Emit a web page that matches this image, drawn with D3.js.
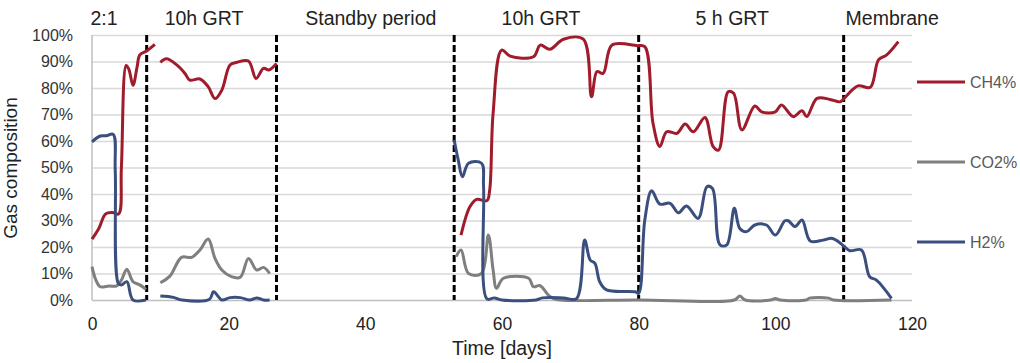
<!DOCTYPE html>
<html>
<head>
<meta charset="utf-8">
<script src="https://cdn.jsdelivr.net/npm/d3@7"></script>
<style>
  body { margin: 0; background: #fff; }
  svg text { font-family: "Liberation Sans", Arial, sans-serif; }
</style>
</head>
<body>
<svg id="chart"></svg>
<script>
// Gas composition (%) per day; null breaks the line
const ch4 = [
  [0, 23], [1, 27], [2, 32.5], [3, 33], [3.9, 32.5], [4.3, 50], [5.0, 88.5], [5.4, 87], [6.0, 81], [6.6, 88], [7.0, 92.5], [8, 94], [9.2, 96.5],
  null,
  [10, 89.7], [10.9, 91], [12.4, 88.7], [13.6, 85.5], [14.3, 83], [15.8, 83.4], [17, 80.5], [18, 76], [19, 79.2], [20.2, 88.7], [21.2, 89.7], [22.9, 90.2], [24, 83.6], [25.1, 87.4], [25.9, 86.8], [27, 89.3],
  null,
  [54, 24.5], [55.3, 35.2], [56.3, 38], [57.8, 37.5], [58.2, 41.5], [58.7, 70.5], [59.95, 94.3], [61.2, 92], [64.6, 91.8], [65.6, 96.2], [67, 94.6], [69, 98.4], [71.9, 98.4], [73.1, 76.7], [73.9, 86.2], [74.8, 85.5], [76.1, 96.2], [79.7, 96], [80.9, 95.6], [82.1, 66.7], [83.1, 57.9], [84.1, 63.5], [85.6, 62.9], [86.8, 66.4], [88, 63.5], [89.7, 68.9], [90.9, 57.9], [91.7, 56.6], [93.1, 78.6], [93.9, 78], [95.1, 64.2], [97, 73.2], [98, 71], [100, 71], [100.9, 73.6], [102.6, 69.2], [103.9, 71.4], [104.6, 69.2], [106.1, 76.1], [108, 75.7], [109.5, 74.8], [110.2, 76.5], [112.1, 80.8], [113.9, 80.3], [115.1, 90.6], [116.3, 92.5], [118, 97.5]
];
const co2 = [
  [0, 12.6], [0.5, 8], [1.2, 5], [2.5, 5.3], [3.6, 5.3], [4.3, 7.5], [5.1, 11.6], [6.0, 6.9], [7.0, 5.7], [7.9, 4],
  null,
  [10, 6.5], [11.4, 9], [13.1, 16.1], [14.6, 16.1], [15.8, 18.9], [17, 23], [18, 15.7], [19, 11.3], [20.4, 8.8], [21.7, 8.6], [22.9, 15.7], [24.1, 11.3], [25.1, 12.3], [26, 10],
  null,
  [53.3, 16.4], [54, 18.9], [55.1, 10], [57, 10], [58, 24.5], [58.7, 11.3], [59.2, 4.4], [60.2, 8.2], [63.9, 8.2], [64.6, 5], [65.5, 5.5], [66, 4.4], [67, 1.3], [68, 0.2], [80, 0], [94, 0], [94.8, 1.5], [95.6, 0], [99.3, 0], [100, 0.6], [100.7, 0], [104.5, 0], [105, 0.7], [107.8, 0.7], [108.5, 0], [117, 0]
];
const h2 = [
  [0, 59.7], [1.2, 61.9], [2.1, 62], [3.1, 62.5], [3.4, 49], [3.85, 6.3], [4.3, 5.7], [5.1, 6.9], [6, 0], [7.9, 0],
  null,
  [10, 1.5], [11.9, 1], [13.2, 0], [17.2, 0.3], [17.8, 3.1], [19, 0], [20.2, 0.9], [21.7, 0.9], [23.1, 0], [24.1, 0.8], [25.1, 0], [26, 0],
  null,
  [53, 60.4], [53.6, 52.8], [54.2, 46.5], [55.1, 51.6], [57, 51.6], [57.3, 42.8], [57.8, 0.4], [58.9, 0.8], [60, 0], [65, 0], [65.9, 0.8], [69, 0.8], [70.9, 0.5], [72.1, 22.6], [72.9, 15.1], [73.6, 13.8], [74.3, 6.9], [75.3, 3.8], [79.5, 3.1], [80, 2.5], [80.9, 30.2], [81.9, 41.2], [83.1, 36.2], [84.6, 36.5], [85.8, 32.9], [87, 35.5], [88.7, 30.8], [90, 42.8], [90.8, 42.1], [91.9, 20.8], [92.9, 20.8], [94, 34.6], [94.8, 27], [95.8, 25.8], [97, 28.3], [98.7, 28.3], [100, 24.5], [101.4, 29.9], [101.9, 29.9], [102.9, 27.7], [103.9, 30.2], [105.1, 22.3], [107, 22.6], [108.2, 23.3], [108.9, 22.6], [110, 20.4], [110.9, 18.6], [112.6, 18.9], [113.8, 8.8], [114.8, 7.5], [117, 0.6]
];

const seriesNames = ["CH4%", "CO2%", "H2%"];
const seriesData = [ch4, co2, h2];
const seriesColors = ["#a01b2b", "#7f7f7f", "#3b4f7e"];

// period boundaries and header labels
const phaseChangeDays = [8, 27, 53, 80, 110];
const periodNames = ["2:1", "10h GRT", "Standby period", "10h GRT", "5 h GRT", "Membrane"];
const periodLabelDays = [1.75, 16.4, 40.8, 65.7, 93.7, 117.1];

const xTicks = [0, 20, 40, 60, 80, 100, 120];
const yTicks = [0, 10, 20, 30, 40, 50, 60, 70, 80, 90, 100];

var svgWidth = 1020,
    svgHeight = 363,
    margin = { top: 35, right: 108, bottom: 63, left: 92 },
    width = svgWidth - margin.left - margin.right,
    height = svgHeight - margin.top - margin.bottom;

const svg = d3.select("#chart")
    .attr("width", svgWidth)
    .attr("height", svgHeight);

const g = svg.append("g")
    .attr("transform", "translate(" + [margin.left, margin.top] + ")");

const x = d3.scaleLinear().domain([0, 120]).range([0, width]);
const y = d3.scaleLinear().domain([0, 100]).range([height, 0]);

// gridlines + y labels
const yAxis = g.append("g")
    .call(d3.axisLeft(y).tickValues(yTicks).tickSize(-width).tickPadding(19)
        .tickFormat(function (d) { return d + "%"; }));
yAxis.select(".domain").remove();
yAxis.selectAll(".tick line")
    .attr("stroke", function (d) { return d === 0 ? "#bfbfbf" : "#d9d9d9"; })
    .attr("stroke-width", 1.5);
yAxis.selectAll(".tick text")
    .attr("fill", "#333")
    .style("font-size", "16px");

g.append("line")
    .attr("x1", 0).attr("x2", 0)
    .attr("y1", 0).attr("y2", height)
    .attr("stroke", "#bfbfbf")
    .attr("stroke-width", 1.5);

// x labels
const xAxis = g.append("g")
    .attr("transform", "translate(0," + height + ")")
    .call(d3.axisBottom(x).tickValues(xTicks).tickSize(0).tickPadding(18));
xAxis.select(".domain").remove();
xAxis.selectAll(".tick text")
    .attr("fill", "#222")
    .style("font-size", "17.5px");

// phase dividers
g.selectAll(".phase")
    .data(phaseChangeDays)
    .enter()
    .append("line")
    .attr("x1", function (d) { return x(d); })
    .attr("x2", function (d) { return x(d); })
    .attr("y1", 0).attr("y2", height)
    .attr("stroke", "#000")
    .attr("stroke-width", 3)
    .attr("stroke-dasharray", "7,3");

// series
const line = d3.line()
    .defined(function (d) { return d !== null; })
    .x(function (d) { return x(d[0]); })
    .y(function (d) { return y(d[1]); })
    .curve(d3.curveCatmullRom.alpha(0.5));

g.selectAll(".series")
    .data(seriesData)
    .enter()
    .append("path")
    .attr("fill", "none")
    .attr("stroke", function (d, i) { return seriesColors[i]; })
    .attr("stroke-width", 3)
    .attr("stroke-linejoin", "round")
    .attr("d", line);

// period headers
svg.selectAll(".period")
    .data(periodNames)
    .enter()
    .append("text")
    .attr("x", function (d, i) { return margin.left + x(periodLabelDays[i]); })
    .attr("y", 25)
    .attr("text-anchor", "middle")
    .attr("fill", "#222")
    .style("font-size", "19.5px")
    .text(function (d) { return d; });

// axis titles
svg.append("text")
    .attr("x", margin.left + x(60))
    .attr("y", 355)
    .attr("text-anchor", "middle")
    .attr("fill", "#222")
    .style("font-size", "19.5px")
    .text("Time [days]");

svg.append("text")
    .attr("transform", "translate(17,168) rotate(-90)")
    .attr("text-anchor", "middle")
    .attr("fill", "#222")
    .style("font-size", "19px")
    .text("Gas composition");

// legend
const legendY = [82, 162, 242];
const legend = svg.selectAll(".legend")
    .data(seriesNames)
    .enter()
    .append("g")
    .attr("transform", function (d, i) { return "translate(" + [917, legendY[i]] + ")"; });
legend.append("line")
    .attr("x1", 0).attr("x2", 48)
    .attr("stroke", function (d, i) { return seriesColors[i]; })
    .attr("stroke-width", 3);
legend.append("text")
    .attr("x", 53)
    .attr("dy", "0.36em")
    .attr("fill", "#595959")
    .style("font-size", "16px")
    .text(function (d) { return d; });
</script>
</body>
</html>
